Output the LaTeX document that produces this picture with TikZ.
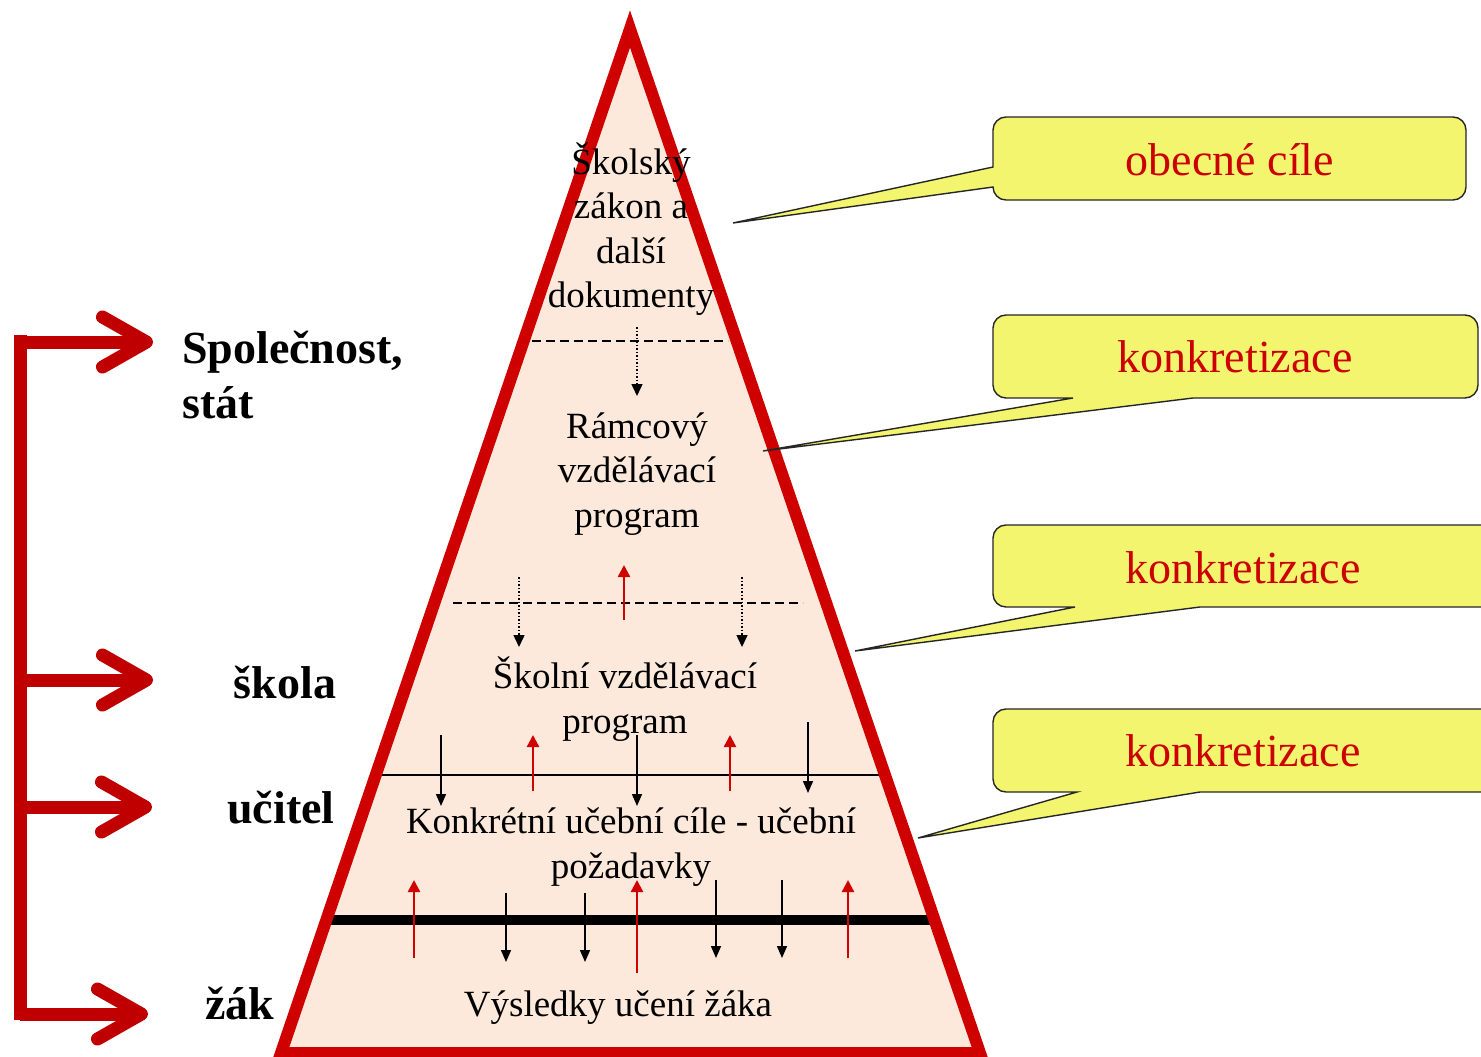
\documentclass[tikz,border=0pt]{standalone}
\usepackage{fontspec}
\setmainfont{Liberation Serif}
\usetikzlibrary{arrows.meta}
\definecolor{pyrred}{RGB}{206,0,0}
\definecolor{brred}{RGB}{192,0,0}
\definecolor{peach}{RGB}{252,233,219}
\definecolor{callyellow}{RGB}{243,245,110}
\definecolor{calltxt}{RGB}{204,0,0}
\begin{document}
\begin{tikzpicture}[x=1pt,y=-1pt,
  pyrtext/.style={font=\fontsize{37}{44.5}\selectfont, align=center, inner sep=0pt},
  calltext/.style={font=\fontsize{46}{52}\selectfont, text=calltxt, inner sep=0pt},
  sidelabel/.style={font=\bfseries\fontsize{46}{55}\selectfont, inner sep=0pt},
  callout/.style={fill=callyellow, draw=black!85, line width=1.4pt, line join=miter},
  downarr/.style={black, line width=1.5pt, -{Triangle[length=12pt,width=10pt]}},
  uparr/.style={pyrred, line width=2.4pt, -{Triangle[length=12pt,width=12pt]}},
  dotarr/.style={black, line width=1.5pt, dotted, -{Triangle[length=12pt,width=11pt]}},
  dashline/.style={black, line width=1.2pt, dash pattern=on 9pt off 5pt},
  pyredge/.style={pyrred, line width=12pt, line join=miter},
  bracketline/.style={brred, line width=13pt},
  barbarr/.style={brred, line width=13pt, -{Straight Barb[round,length=44pt,width=50pt]}},
]
\useasboundingbox (0,0) rectangle (1481,1057);
\clip (0,0) rectangle (1481,1057);
\fill[white] (0,0) rectangle (1481,1057);

% pyramid
\coordinate (apex) at (630,29);
\coordinate (bl) at (281,1053);
\coordinate (br) at (980,1053);
\fill[peach] (apex) -- (bl) -- (br) -- cycle;

% level separators
\coordinate (s1a) at (532,341); \coordinate (s1b) at (728,341);
\coordinate (s2a) at (453,603); \coordinate (s2b) at (803,603);
\coordinate (s3a) at (377,775); \coordinate (s3b) at (879,775);
\coordinate (s4a) at (330,920); \coordinate (s4b) at (930,920);
\draw[dashline] (s1a) -- (s1b);
\draw[dashline] (s2a) -- (s2b);
\draw[black, line width=1.2pt] (s3a) -- (s3b);
\draw[black, line width=10pt] (s4a) -- (s4b);

% dotted arrows
\foreach \x/\ya/\yb [count=\i] in {637/327/396, 519/577/647, 742/577/647} {
  \coordinate (pa\i) at (\x,\ya); \coordinate (pb\i) at (\x,\yb);
  \draw[dotarr] (pa\i) -- (pb\i);
}
% black down arrows
\foreach \x/\ya/\yb [count=\i] in {441/735/806, 637/735/806, 808/722/793, 506/893/962, 585/893/962, 716/880/958, 782/880/958} {
  \coordinate (da\i) at (\x,\ya); \coordinate (db\i) at (\x,\yb);
  \draw[downarr] (da\i) -- (db\i);
}
% red up arrows
\foreach \x/\ya/\yb [count=\i] in {624/620/565, 533/791/735, 730/791/735, 414/958/880, 637/973/880, 848/958/880} {
  \coordinate (ua\i) at (\x,\ya); \coordinate (ub\i) at (\x,\yb);
  \draw[uparr] (ua\i) -- (ub\i);
}

\draw[pyredge] (apex) -- (bl) -- (br) -- cycle;

% pyramid texts
\node[pyrtext] (t1) at (631,229) {Školský\\zákon a\\další\\dokumenty};
\node[pyrtext] (t2) at (637,474) {Rámcový\\vzdělávací\\program};
\node[pyrtext] (t3) at (625,699) {Školní vzdělávací\\program};
\node[pyrtext] (t4) at (631,847) {Konkrétní učební cíle - učební\\požadavky};
\node[pyrtext] (t5) at (618,1008) {Výsledky učení žáka};

% callouts (rounded box corners, sharp tail)
\draw[callout] (1200,117) [rounded corners=13pt] -- (993,117) [sharp corners] -- (993,167) -- (733,223) -- (993,187) [rounded corners=13pt] -- (993,200) -- (1466,200) -- (1466,117) -- cycle;
\draw[callout] (1200,315) [rounded corners=13pt] -- (993,315) -- (993,398) [sharp corners] -- (1073,398) -- (763,451) -- (1193,398) [rounded corners=13pt] -- (1478,398) -- (1478,315) -- cycle;
\draw[callout] (1200,525) [rounded corners=13pt] -- (993,525) -- (993,607) [sharp corners] -- (1075,607) -- (855,651) -- (1200,607) [rounded corners=13pt] -- (1500,607) -- (1500,525) -- cycle;
\draw[callout] (1200,709) [rounded corners=13pt] -- (993,709) -- (993,792) [sharp corners] -- (1077,792) -- (918,838) -- (1200,792) [rounded corners=13pt] -- (1500,792) -- (1500,709) -- cycle;
\node[calltext] (c1) at (1230,160) {obecné cíle};
\node[calltext] (c2) at (1235,357) {konkretizace};
\node[calltext] (c3) at (1243,568) {konkretizace};
\node[calltext] (c4) at (1243,751) {konkretizace};

% side labels
\node[sidelabel, align=left, anchor=north west] (l1) at (182,331) {Společnost,\\stát};
\node[sidelabel] (l2) at (285,683) {škola};
\node[sidelabel] (l3) at (281,808) {učitel};
\node[sidelabel] (l4) at (240,1003) {žák};

% bracket with arrows
\coordinate (btop) at (20,335);
\coordinate (bbot) at (20,1020);
\draw[bracketline] (btop) -- (bbot);
\coordinate (a1s) at (20,342);  \coordinate (a1e) at (153,342);
\coordinate (a2s) at (20,680);  \coordinate (a2e) at (153,680);
\coordinate (a3s) at (20,807);  \coordinate (a3e) at (152,807);
\coordinate (a4s) at (20,1014); \coordinate (a4e) at (148,1014);
\draw[barbarr] (a1s) -- (a1e);
\draw[barbarr] (a2s) -- (a2e);
\draw[barbarr] (a3s) -- (a3e);
\draw[barbarr] (a4s) -- (a4e);
\end{tikzpicture}
\end{document}
